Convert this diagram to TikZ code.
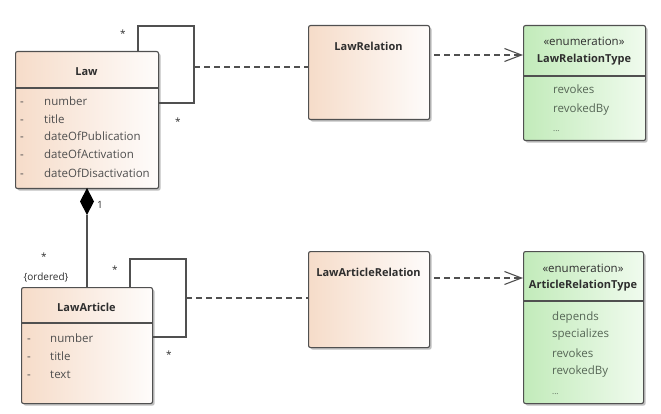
\documentclass[tikz,border=0pt]{standalone}
\usepackage{fontspec}
\setmainfont{Open Sans}
\usetikzlibrary{arrows.meta,shadows}
\definecolor{bordc}{HTML}{505050}
\definecolor{orL}{HTML}{F6DCC9}
\definecolor{orR}{HTML}{FEFCFB}
\definecolor{grL}{HTML}{C2EBBA}
\definecolor{grR}{HTML}{F0FBEE}
\definecolor{txtc}{HTML}{2E2E2E}
\definecolor{attrc}{HTML}{4E4E4E}
\definecolor{enumc}{HTML}{566656}
\definecolor{linec}{HTML}{505050}
\tikzset{
  box/.style={draw=bordc, line width=1.1pt, rounded corners=2pt, anchor=north west, inner sep=0pt,
    drop shadow={shadow xshift=2pt, shadow yshift=-2pt, opacity=0.25, fill=black}},
  orbox/.style={box, left color=orL, right color=orR},
  grbox/.style={box, left color=grL, right color=grR},
  sep/.style={draw=bordc, line width=1.1pt},
  ttl/.style={font=\fontsize{11}{13}\selectfont\bfseries, text=txtc, inner sep=0pt},
  attr/.style={font=\fontsize{11.5}{13}\selectfont, text=attrc, inner sep=0pt, anchor=west, text height=9.5pt, text depth=1.5pt},
  eitem/.style={font=\fontsize{11.5}{13}\selectfont, text=enumc, inner sep=0pt, anchor=west, text height=9.5pt, text depth=1.5pt},
  mult/.style={font=\fontsize{10}{12}\selectfont, text=txtc, inner sep=0pt},
  solidline/.style={draw=linec, line width=1.1pt},
  dashline/.style={draw=linec, line width=1.1pt, dash pattern=on 6pt off 4pt},
  deparrow/.style={dashline, -{Straight Barb[length=17pt,width=13pt,line width=1.1pt]}},
}
\begin{document}
\begin{tikzpicture}[x=1pt,y=-1pt]
\useasboundingbox (0,0) rectangle (661,414);
% ---------- Law ----------
\node[orbox, minimum width=143pt, minimum height=137pt] (law) at (15,51) {};
\draw[sep] (law.west |- 0,88) -- (law.east |- 0,88);
\node[ttl] (lawT) at (86.5,72) {Law};
\foreach \y/\t [count=\i] in {102/number,120/title,137/dateOfPublication,155/dateOfActivation,174/dateOfDisactivation}{
  \node[attr] (lawD\i) at (20,\y) {-};
  \node[attr] (lawA\i) at (44,\y) {\t};
}
% ---------- LawArticle ----------
\node[orbox, minimum width=131pt, minimum height=116pt] (art) at (21,287) {};
\draw[sep] (art.west |- 0,323) -- (art.east |- 0,323);
\node[ttl] (artT) at (86.5,307) {LawArticle};
\foreach \y/\t [count=\i] in {338/number,356/title,374/text}{
  \node[attr] (artD\i) at (27,\y) {-};
  \node[attr] (artA\i) at (50,\y) {\t};
}
% ---------- LawRelation ----------
\node[orbox, minimum width=121pt, minimum height=94pt] (lrel) at (308,25) {};
\node[ttl] (lrelT) at (368.5,46) {LawRelation};
% ---------- LawArticleRelation ----------
\node[orbox, minimum width=121pt, minimum height=96pt] (arel) at (308,251) {};
\node[ttl] (arelT) at (368.5,272) {LawArticleRelation};
% ---------- LawRelationType ----------
\node[grbox, minimum width=122pt, minimum height=115pt] (lrt) at (523,25) {};
\draw[sep] (lrt.west |- 0,76) -- (lrt.east |- 0,76);
\node[attr, anchor=center, text=txtc] (lrtS) at (584,42) {«enumeration»};
\node[ttl] (lrtT) at (584,60) {LawRelationType};
\node[eitem] (lrtI1) at (553,90) {revokes};
\node[eitem] (lrtI2) at (553,109) {revokedBy};
\node[eitem, font=\fontsize{8}{10}\selectfont] (lrtI3) at (553,128) {...};
% ---------- ArticleRelationType ----------
\node[grbox, minimum width=120pt, minimum height=152pt] (art2) at (523,251) {};
\draw[sep] (art2.west |- 0,301) -- (art2.east |- 0,301);
\node[attr, anchor=center, text=txtc] (artS) at (583,268) {«enumeration»};
\node[ttl] (artTT) at (583,286) {ArticleRelationType};
\node[eitem] (artI1) at (552,316) {depends};
\node[eitem] (artI2) at (552,333) {specializes};
\node[eitem] (artI3) at (552,353) {revokes};
\node[eitem] (artI4) at (552,370) {revokedBy};
\node[eitem, font=\fontsize{8}{10}\selectfont] (artI5) at (552,390) {...};
% ---------- Law self association ----------
\coordinate (lawLa) at (138,26);
\coordinate (lawLb) at (194,103);
\coordinate (lawLm) at (194,67);
\draw[solidline] (law.north -| lawLa) -- (lawLa) -| (lawLb) -- (law.east |- lawLb);
\draw[dashline] (lawLm) -- (lrel.west |- lawLm);
\node[mult] (lawM1) at (123,34) {*};
\node[mult] (lawM2) at (178,122) {*};
% ---------- LawArticle self association ----------
\coordinate (artLa) at (130,259);
\coordinate (artLb) at (186,337);
\coordinate (artLm) at (186,298);
\draw[solidline] (art.north -| artLa) -- (artLa) -| (artLb) -- (art.east |- artLb);
\draw[dashline] (artLm) -- (arel.west |- artLm);
\node[mult] (artM1) at (115,270) {*};
\node[mult] (artM2) at (169,355) {*};
% ---------- composition ----------
\coordinate (dtop) at (87,188);
\coordinate (dbot) at (87,215);
\fill[black] (dtop) -- (94,201.5) -- (dbot) -- (80,201.5) -- cycle;
\draw[solidline] (dbot) -- (art.north -| dbot);
\node[mult, anchor=west] (cm1) at (97,205) {1};
\node[mult] (cm2) at (44,257) {*};
\node[mult] (cm3) at (46,277) {\{ordered\}};
% ---------- dependencies ----------
\coordinate (d1s) at (434,55);
\coordinate (d2s) at (434,278);
\draw[deparrow] (d1s) -- (lrt.west |- d1s);
\draw[deparrow] (d2s) -- (art2.west |- d2s);
\end{tikzpicture}
\end{document}
